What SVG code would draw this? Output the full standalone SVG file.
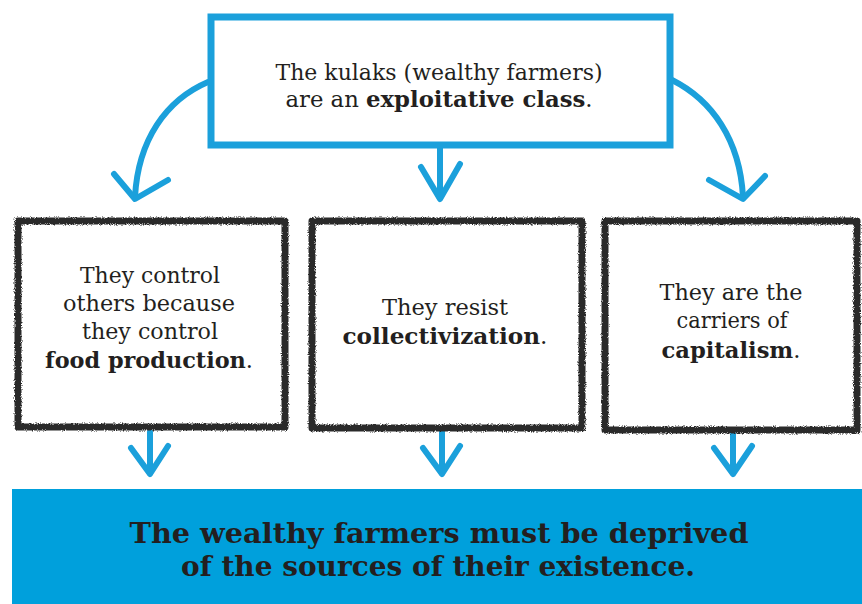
<svg xmlns="http://www.w3.org/2000/svg" width="862" height="604" viewBox="0 0 862 604">
<style>
.t{font-family:"DejaVu Serif","Liberation Serif",serif;font-size:22px;fill:#231f20;text-anchor:middle}
.b{font-weight:bold}
.big{font-family:"DejaVu Serif","Liberation Serif",serif;font-weight:bold;font-size:28px;fill:#231f20;text-anchor:middle}
.blue{fill:none;stroke:#1ba0db;stroke-width:6;stroke-linecap:round;stroke-linejoin:round}
.box{fill:#fff;stroke:#2b2a2a;stroke-width:7;stroke-linejoin:round}
</style>
<defs>
<filter id="rough" x="-5%" y="-5%" width="110%" height="110%">
<feTurbulence type="fractalNoise" baseFrequency="0.9" numOctaves="2" seed="3" result="n"/>
<feDisplacementMap in="SourceGraphic" in2="n" scale="3.5"/>
</filter>
</defs>
<rect width="862" height="604" fill="#fff"/>
<g id="connectors">
<path class="blue" d="M208,82 C166,100 138,140 135,197"/>
<path class="blue" d="M114,174 L135,199 L168,180"/>
<path class="blue" d="M440,148 L440,197"/>
<path class="blue" d="M421,167 L440,199 L460,164"/>
<path class="blue" d="M672,80 C712,100 740,140 743,197"/>
<path class="blue" d="M709,180 L743,199 L765,176"/>
<path class="blue" d="M150,432 L150,473"/>
<path class="blue" d="M131,448 L150,474 L168,446"/>
<path class="blue" d="M442,432 L442,473"/>
<path class="blue" d="M423,448 L442,474 L460,446"/>
<path class="blue" d="M733,434 L733,473"/>
<path class="blue" d="M714,448 L733,474 L752,446"/>
</g>
<g id="top">
<rect x="211" y="17" width="459" height="128" fill="#fff" stroke="#1ba0db" stroke-width="7"/>
<text class="t" x="439" y="80" textLength="327" lengthAdjust="spacingAndGlyphs">The kulaks (wealthy farmers)</text>
<text class="t" x="439" y="107" textLength="307" lengthAdjust="spacingAndGlyphs">are an <tspan class="b">exploitative class</tspan>.</text>
</g>
<g id="box1">
<rect class="box" x="18" y="221" width="267" height="206" filter="url(#rough)"/>
<text class="t" x="150" y="283" textLength="140" lengthAdjust="spacingAndGlyphs">They control</text>
<text class="t" x="149" y="311" textLength="172" lengthAdjust="spacingAndGlyphs">others because</text>
<text class="t" x="150" y="339" textLength="136" lengthAdjust="spacingAndGlyphs">they control</text>
<text class="t" x="149" y="368" textLength="208" lengthAdjust="spacingAndGlyphs"><tspan class="b">food production</tspan>.</text>
</g>
<g id="box2">
<rect class="box" x="312" y="221" width="270" height="207" filter="url(#rough)"/>
<text class="t" x="445" y="315" textLength="126" lengthAdjust="spacingAndGlyphs">They resist</text>
<text class="t" x="445" y="344" textLength="205" lengthAdjust="spacingAndGlyphs"><tspan class="b">collectivization</tspan>.</text>
</g>
<g id="box3">
<rect class="box" x="605" y="221" width="252" height="209" filter="url(#rough)"/>
<text class="t" x="731" y="300" textLength="143" lengthAdjust="spacingAndGlyphs">They are the</text>
<text class="t" x="732" y="328" textLength="111" lengthAdjust="spacingAndGlyphs">carriers of</text>
<text class="t" x="731" y="358" textLength="139" lengthAdjust="spacingAndGlyphs"><tspan class="b">capitalism</tspan>.</text>
</g>
<g id="conclusion">
<rect x="12" y="489" width="850" height="115" fill="#00a0dc"/>
<text class="big" x="439" y="543" textLength="619" lengthAdjust="spacingAndGlyphs">The wealthy farmers must be deprived</text>
<text class="big" x="438" y="576" textLength="514" lengthAdjust="spacingAndGlyphs">of the sources of their existence.</text>
</g>
</svg>
